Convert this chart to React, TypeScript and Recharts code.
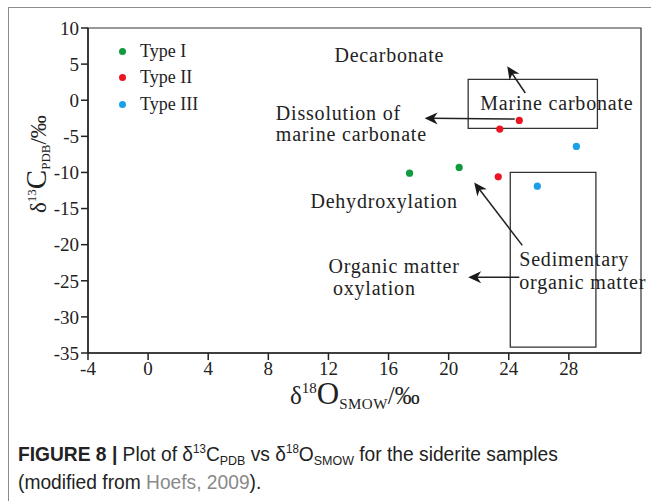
import { ScatterChart, Scatter, XAxis, YAxis, ReferenceArea, ReferenceLine, ReferenceDot } from "recharts"

const SERIF = "'Liberation Serif', 'Times New Roman', serif"
const SANS = "'Liberation Sans', Arial, sans-serif"

// sample points
const typeI = [
  { x: 17.4, y: -10.1 },
  { x: 20.7, y: -9.3 },
]
const typeII = [
  { x: 24.7, y: -2.8 },
  { x: 23.4, y: -4.0 },
  { x: 23.3, y: -10.6 },
]
const typeIII = [
  { x: 28.5, y: -6.4 },
  { x: 25.9, y: -11.9 },
]

const xTicks = [-4, 0, 4, 8, 12, 16, 20, 24, 28]
const yTicks = [-35, -30, -25, -20, -15, -10, -5, 0, 5, 10]

const series = [
  { name: "Type I", data: typeI, color: "#119a40" },
  { name: "Type II", data: typeII, color: "#ea1520" },
  { name: "Type III", data: typeIII, color: "#1ba0e8" },
]

// field boxes (Hoefs, 2009)
const boxes = [
  { x1: 21.3, x2: 29.9, y1: -3.9, y2: 2.9 },
  { x1: 24.1, x2: 29.8, y1: -34.2, y2: -10 },
]

// arrows: tail -> head
const arrows = [
  { from: [25.1, 1.0], to: [23.9, 4.7] },
  { from: [24.4, -2.6], to: [18.4, -2.5] },
  { from: [24.9, -20.1], to: [21.7, -11.4] },
  { from: [24.7, -24.5], to: [21.3, -24.5] },
]

const notes = [
  { text: "Decarbonate", x: 12.4, y: 6.2 },
  { text: "Marine carbonate", x: 22.1, y: -0.4 },
  { text: "Dissolution of", x: 8.5, y: -1.7 },
  { text: "marine carbonate", x: 8.5, y: -4.7 },
  { text: "Dehydroxylation", x: 10.8, y: -14.0 },
  { text: "Sedimentary", x: 24.7, y: -22.0 },
  { text: "organic matter", x: 24.7, y: -25.1 },
  { text: "Organic matter", x: 12.0, y: -23.0 },
  { text: "oxylation", x: 12.3, y: -26.0 },
]

function Arrow(props: any) {
  const { x1, y1, x2, y2 } = props
  const dx = x2 - x1
  const dy = y2 - y1
  const len = Math.sqrt(dx * dx + dy * dy)
  const ux = dx / len
  const uy = dy / len
  const hl = 13
  const hw = 6
  const bx = x2 - ux * hl
  const by = y2 - uy * hl
  const pts = `${x2},${y2} ${bx - uy * hw},${by + ux * hw} ${x2 - ux * hl * 0.7},${y2 - uy * hl * 0.7} ${bx + uy * hw},${by - ux * hw}`
  return (
    <g>
      <line x1={x1} y1={y1} x2={x2 - ux * 6} y2={y2 - uy * 6} stroke="#222" strokeWidth={1.5} />
      <polygon points={pts} fill="#1a1a1a" />
    </g>
  )
}

const supStyle = { fontSize: 12, position: "relative" as const, top: -8, verticalAlign: "baseline" }
const subStyle = { fontSize: 13, position: "relative" as const, top: 4, verticalAlign: "baseline" }

export default function App() {
  return (
    <div style={{ position: "absolute", left: 0, top: 0, width: 651, height: 501, background: "#fff", overflow: "hidden" }}>
      <div style={{ position: "absolute", left: 8, top: 7, width: 643, height: 494, borderTop: "1.5px solid #8c8c8c", borderLeft: "1.5px solid #8c8c8c" }} />
      <div style={{ position: "absolute", left: 0, top: 0 }}>
        <ScatterChart width={651} height={420} margin={{ top: 28, right: 10, bottom: 37, left: 28 }}>
          <XAxis
            type="number"
            dataKey="x"
            domain={[-4, 32.8]}
            ticks={xTicks}
            allowDataOverflow
            tickSize={7}
            stroke="#222"
            strokeWidth={1.5}
            height={30}
            tick={{ fontFamily: SERIF, fontSize: 19, fill: "#222" }}
            label={{
              content: () => (
                <text x={290} y={404} fontFamily={SERIF} fill="#222">
                  <tspan fontSize={25}>δ</tspan>
                  <tspan fontSize={15} dy={-11}>18</tspan>
                  <tspan fontSize={31} dy={11}>O</tspan>
                  <tspan fontSize={15} dy={5} letterSpacing={0.5}>SMOW</tspan>
                  <tspan fontSize={25} dy={-5}>/‰</tspan>
                </text>
              ),
            }}
          />
          <YAxis
            type="number"
            dataKey="y"
            domain={[-35, 10]}
            ticks={yTicks}
            allowDataOverflow
            tickSize={7}
            stroke="#222"
            strokeWidth={1.5}
            width={60}
            tick={{ fontFamily: SERIF, fontSize: 19, fill: "#222" }}
            label={{
              content: () => (
                <text x={0} y={0} transform="translate(46,213) rotate(-90)" fontFamily={SERIF} fill="#222">
                  <tspan fontSize={23}>δ</tspan>
                  <tspan fontSize={13} dy={-10}>13</tspan>
                  <tspan fontSize={29} dy={10}>C</tspan>
                  <tspan fontSize={13} dy={4}>PDB</tspan>
                  <tspan fontSize={23} dy={-4}>/‰</tspan>
                </text>
              ),
            }}
          />
          <ReferenceArea x1={-4} x2={32.8} y1={-35} y2={10} fill="none" stroke="#333" strokeWidth={1.2} ifOverflow="visible" />
          {boxes.map((b, i) => (
            <ReferenceArea key={i} x1={b.x1} x2={b.x2} y1={b.y1} y2={b.y2} fill="none" stroke="#333" strokeWidth={1.3} />
          ))}
          {arrows.map((a, i) => (
            <ReferenceLine
              key={i}
              segment={[
                { x: a.from[0], y: a.from[1] },
                { x: a.to[0], y: a.to[1] },
              ]}
              shape={Arrow}
            />
          ))}
          {notes.map((n, i) => (
            <ReferenceDot
              key={i}
              x={n.x}
              y={n.y}
              r={0}
              shape={(p: any) => (
                <text x={p.cx} y={p.cy} dominantBaseline="central" fontFamily={SERIF} fontSize={20} letterSpacing={0.8} fill="#222">
                  {n.text}
                </text>
              )}
            />
          ))}
          {series.map((s) => (
            <Scatter
              key={s.name}
              name={s.name}
              data={s.data}
              fill={s.color}
              isAnimationActive={false}
              shape={(p: any) => <circle cx={p.cx} cy={p.cy} r={3.6} fill={s.color} />}
            />
          ))}
        </ScatterChart>
      </div>
      <div style={{ position: "absolute", left: 119, top: 38, fontFamily: SERIF, fontSize: 18, color: "#222" }}>
        {series.map((s) => (
          <div key={s.name} style={{ display: "flex", alignItems: "center", height: 26.5 }}>
            <span style={{ width: 7, height: 7, borderRadius: 4, background: s.color, display: "inline-block", marginRight: 14 }} />
            <span>{s.name}</span>
          </div>
        ))}
      </div>
      <div
        style={{
          position: "absolute",
          left: 18,
          top: 442,
          fontFamily: SANS,
          fontSize: 20,
          color: "#222",
          lineHeight: "25px",
          whiteSpace: "nowrap",
          transform: "scaleX(0.96)",
          transformOrigin: "left top",
        }}
      >
        <div>
          <b>FIGURE 8 |</b> Plot of δ<span style={supStyle}>13</span>C<span style={subStyle}>PDB</span> vs δ
          <span style={supStyle}>18</span>O<span style={subStyle}>SMOW</span> for the siderite samples
        </div>
        <div>
          (modified from <span style={{ color: "#8a8a8a" }}>Hoefs, 2009</span>).
        </div>
      </div>
    </div>
  )
}
